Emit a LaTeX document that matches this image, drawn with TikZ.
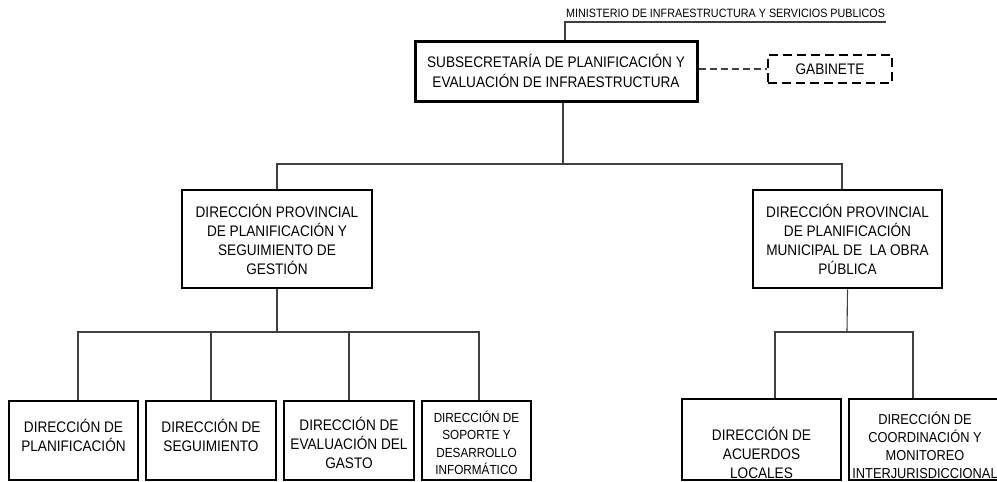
\documentclass[tikz,border=0pt]{standalone}
\usepackage{fontspec}
\setmainfont{Liberation Sans}[FakeStretch=0.89]
\begin{document}
\begin{tikzpicture}[x=1pt,y=-1pt,
  box/.style={draw=black, line width=2.8pt, align=center, inner sep=0pt,
    font=\fontsize{15.3}{19}\selectfont},
  txt/.style={align=center, inner sep=0pt, font=\fontsize{15.3}{19}\selectfont},
  conn/.style={line width=1.1pt, draw=black!75},
  dashbox/.style={draw=black, line width=2.3pt, dash pattern=on 9pt off 5pt,
    inner sep=0pt, font=\fontsize{15.3}{19}\selectfont}]
\useasboundingbox (0,0) rectangle (997,482);

% top
\node[inner sep=0pt, anchor=base west, font=\fontsize{12.1}{13}\selectfont] (min) at (566,17)
  {MINISTERIO DE INFRAESTRUCTURA Y SERVICIOS PUBLICOS};
\coordinate (m1) at (565,22);
\coordinate (m2) at (886,22);

\node[box, line width=3pt, minimum width=282pt, minimum height=60pt] (top) at (556,71)
  {SUBSECRETARÍA DE PLANIFICACIÓN Y\\[1pt]EVALUACIÓN DE INFRAESTRUCTURA};
\node[dashbox, minimum width=124pt, minimum height=28pt] (gab) at (830,69) {GABINETE};

% provincial
\node[box, minimum width=190pt, minimum height=98pt] (dpl) at (277,239)
  {DIRECCIÓN PROVINCIAL\\DE PLANIFICACIÓN Y\\SEGUIMIENTO DE\\GESTIÓN};
\node[box, minimum width=189pt, minimum height=98pt] (dpr) at (847.5,239)
  {DIRECCIÓN PROVINCIAL\\DE PLANIFICACIÓN\\MUNICIPAL DE \ LA OBRA\\PÚBLICA};

% bottom boxes
\node[box, minimum width=129pt, minimum height=79pt] (b1) at (73.5,440.5) {};
\node[box, minimum width=130pt, minimum height=79pt] (b2) at (211,440.5) {};
\node[box, minimum width=130pt, minimum height=79pt] (b3) at (349,440.5) {};
\node[box, minimum width=109pt, minimum height=79pt] (b4) at (476.5,440.5) {};
\node[box, minimum width=159pt, minimum height=81pt] (b5) at (761.5,439.5) {};
\node[box, minimum width=158pt, minimum height=81pt] (b6) at (928,439.5) {};

\node[txt] (b1t) at ([yshift=5.5pt]b1.center) {DIRECCIÓN DE\\PLANIFICACIÓN};
\node[txt] (b2t) at ([yshift=5.5pt]b2.center) {DIRECCIÓN DE\\SEGUIMIENTO};
\node[txt] (b3t) at ([yshift=-2.5pt]b3.center) {DIRECCIÓN DE\\EVALUACIÓN DEL\\GASTO};
\node[txt, font=\fontsize{13.2}{17.5}\selectfont] (b4t) at ([yshift=-2.5pt]b4.center)
  {DIRECCIÓN DE\\SOPORTE Y\\DESARROLLO\\INFORMÁTICO};
\node[txt] (b5t) at ([yshift=-13.5pt]b5.center) {DIRECCIÓN DE\\ACUERDOS\\LOCALES};
\node[txt, font=\fontsize{14.4}{18}\selectfont] (b6t) at ([xshift=-3pt,yshift=-5.5pt]b6.center)
  {DIRECCIÓN DE\\COORDINACIÓN Y\\MONITOREO\\INTERJURISDICCIONAL};

% connectors
\draw[conn] (top.north -| m1) -- (m1) -- (m2);
\draw[conn, dash pattern=on 7pt off 4pt] (top.east |- gab.west) -- (gab.west);

\coordinate (bus) at (563,164);
\draw[conn] (top.south -| bus) -- (bus);
\draw[conn] (dpl.north) |- (bus) -| ([xshift=-5.5pt]dpr.north);

\coordinate (lb) at (277,332);
\draw[conn] (dpl.south) -- (lb);
\draw[conn] ([xshift=4.5pt]b1.north) |- (lb) -| ([xshift=2.5pt]b4.north);
\draw[conn] (b2.north) -- (b2.north |- lb);
\draw[conn] (b3.north) -- (b3.north |- lb);

\coordinate (rb) at (847,332);
\draw[conn] (dpr.south) -- (rb);
\draw[conn] ([xshift=13.5pt]b5.north) |- (rb) -| ([xshift=-15pt]b6.north);
\end{tikzpicture}
\end{document}
